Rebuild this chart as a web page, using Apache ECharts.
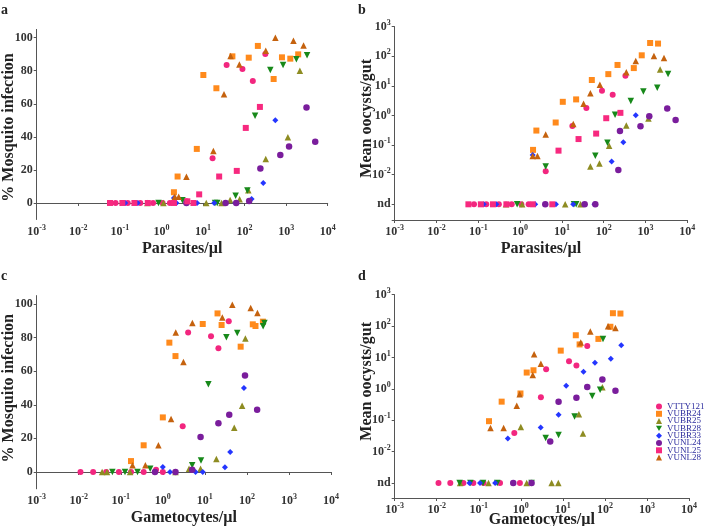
<!DOCTYPE html>
<html><head><meta charset="utf-8">
<script src="https://cdn.jsdelivr.net/npm/echarts@6/dist/echarts.min.js"></script>
<style>html,body{margin:0;padding:0;background:#fff}#c{width:708px;height:526px}</style>
</head><body><div id="c"></div>
<script>
const ND = 0.001; // "nd" (not detected) row
const seriesNames = ['VTTY121','VUBR24','VUBR25','VUBR28','VUBR33','VUNL24','VUNL25','VUNL28'];
const pctTicks = [0,20,40,60,80,100];

// Panel a: % infection vs parasites/µl
const a_VTTY121 = [[0.079,0],[0.155,0],[0.31,0],[0.63,0],[1.07,0],[1.6,0],[4.0,1],[17,27],[37,83.5],[89,81],[158,73.8],[316,90.1]];
const a_VUBR24 = [[2.0,6.5],[2.45,16],[7.1,32.7],[10.2,77.4],[21,69.4],[51,88.7],[126,87.9],[209,95],[501,75],[794,88.1],[1260,87.3],[1950,89.9]];
const a_VUBR25 = [[0.46,0],[1.12,0],[12,0],[28,0],[45,1.8],[76,2.2],[123,7.7],[324,26.6],[1100,39.7],[2140,80]];
const a_VUBR28 = [[0.85,0],[19.5,0],[22,0],[3.2,1.6],[61,4.4],[117,7.5],[179,52.8],[417,80.4],[843,83.5],[1766,86.9],[3190,89.3]];
const a_VUBR33 = [[0.135,0],[0.27,0],[2.3,0],[7.2,0],[18.6,0],[60,0],[2.0,3.0],[148,2.4],[282,12.1],[550,50]];
const a_VUNL24 = [[4.0,0],[35,0],[63,0],[129,1.2],[240,20.8],[724,29],[1175,34.1],[3090,57.7],[5010,37.1]];
const a_VUNL25 = [[0.058,0],[0.115,0],[0.224,0],[0.47,0],[2.0,0],[5.9,0],[4.2,1.0],[8.1,5.2],[24.5,16],[65,19.4],[107,45.4],[234,58.1]];
const a_VUNL28 = [[2.1,3.8],[2.6,3.8],[4.0,15.9],[17.8,31.5],[32,65.7],[46,88.9],[75,83.7],[324,92.1],[552,100],[1500,98.2],[2630,95.2]];

// Panel b: mean oocysts/gut vs parasites/µl
const b_VTTY121 = [[0.079,ND],[0.155,ND],[0.31,ND],[0.63,ND],[1.07,ND],[1.6,ND],[4.1,0.013],[17.8,0.44],[38.5,1.8],[91,6.9],[164,5.0],[331,22]];
const b_VUBR24 = [[2.04,0.069],[2.45,0.31],[7.1,0.58],[10.5,2.9],[21.9,3.5],[52,15.8],[129,25],[214,51],[525,40],[813,108],[1290,282],[1995,269]];
const b_VUBR25 = [[0.46,ND],[1.12,ND],[12,ND],[28,ND],[48,0.019],[79,0.024],[135,0.096],[347,0.46],[1175,0.79],[2240,36]];
const b_VUBR28 = [[0.85,ND],[19.5,ND],[22,ND],[4.1,0.019],[63,0.044],[123,0.12],[187,1.07],[446,3.1],[891,6.5],[1910,8.7],[3470,25]];
const b_VUBR33 = [[0.135,ND],[0.27,ND],[2.3,ND],[7.2,ND],[18.6,ND],[60,ND],[2.0,0.046],[155,0.028],[295,0.125],[585,1.02]];
const b_VUNL24 = [[4.0,ND],[35,ND],[63,ND],[224,0.0145],[245,0.30],[759,0.43],[1230,0.95],[3310,1.74],[5250,0.71]];
const b_VUNL25 = [[0.058,ND],[0.115,ND],[0.224,ND],[0.47,ND],[2.0,ND],[5.9,ND],[8.3,0.065],[25,0.16],[66,0.245],[115,0.81],[251,1.23]];
const b_VUNL28 = [[2.0,0.043],[2.6,0.043],[4.1,0.23],[18.7,0.52],[33,2.5],[48,5.7],[81,11],[347,29],[585,69],[1590,102],[2770,88]];

// Panel c: % infection vs gametocytes/µl
const c_VTTY121 = [[0.011,0],[0.022,0],[0.045,0],[0.09,0],[0.175,0],[0.35,0],[1.0,0],[0.69,1.4],[2.97,27.2],[4.0,83.1],[14,80.8],[21,73.6],[37,89.7]];
const c_VUBR24 = [[0.175,6.5],[0.35,15.9],[1.0,32.5],[1.43,77],[2.0,69],[8.9,88.1],[20,94.4],[25,87.5],[71,74.6],[138,87.9],[160,86.9],[240,89.5]];
const c_VUBR25 = [[0.036,0],[0.047,0],[0.166,0],[2.0,0],[4.2,2],[7.9,2],[18.8,7.7],[50,26.4],[77,39.5],[92,79.4]];
const c_VUBR28 = [[0.063,0],[0.126,0],[0.25,0],[0.5,2],[5.0,4],[8.1,6.9],[12.1,52.2],[32.5,80.2],[59,82.7],[243,86.7],[261,88.7]];
const c_VUBR33 = [[1.48,0],[6.0,0],[8.9,0],[1.0,3],[30,2.8],[40,11.9],[85,50]];
const c_VUNL24 = [[0.65,0],[2.0,0],[5.0,1.4],[7.9,20.8],[21,29],[38,34.1],[90,57.5],[175,37.1]];
const c_VUNL25 = [];
const c_VUNL28 = [[0.19,4],[0.385,4],[0.785,15.9],[1.57,31.5],[2.03,83.1],[3.09,65.5],[5.05,88.7],[26,92],[45,99.6],[123,97.6],[178,94.6]];

// Panel d: mean oocysts/gut vs gametocytes/µl
const d_VTTY121 = [[0.011,ND],[0.021,ND],[0.043,ND],[0.074,ND],[0.13,ND],[0.32,ND],[0.95,ND],[0.70,0.039],[3.0,0.54],[4.0,4.2],[14,7.6],[21,5.5],[38,23]];
const d_VUBR24 = [[0.175,0.093],[0.35,0.39],[0.98,0.71],[1.38,3.3],[2.0,3.9],[8.9,16.5],[20.3,51],[25,26],[70,39],[135,95],[155,257],[234,251]];
const d_VUBR25 = [[0.036,ND],[0.17,ND],[1.38,ND],[5.4,ND],[7.8,ND],[1.0,0.061],[24,0.155],[30,0.038],[87,1.12]];
const d_VUBR28 = [[0.035,ND],[0.063,ND],[0.126,ND],[0.275,ND],[1.8,ND],[3.9,0.027],[7.9,0.034],[19,0.13],[50,0.59],[77,0.93],[90,39]];
const d_VUBR33 = [[0.06,ND],[0.107,ND],[0.245,ND],[0.49,0.026],[2.97,0.058],[7.9,0.15],[12,1.26],[31,3.5],[58,6.8],[138,9.1],[245,24.5]];
const d_VUNL24 = [[0.66,ND],[1.8,ND],[5.0,0.021],[7.9,0.39],[21,0.52],[38,1.15],[87,2.0],[178,0.87]];
const d_VUNL25 = [];
const d_VUNL28 = [[0.19,0.056],[0.39,0.056],[0.8,0.29],[0.94,0.67],[1.92,2.75],[2.07,12.6],[3.0,6.3],[26.6,30],[45,67],[119,98],[178,87]];

const panelData = [
  [a_VTTY121,a_VUBR24,a_VUBR25,a_VUBR28,a_VUBR33,a_VUNL24,a_VUNL25,a_VUNL28],
  [b_VTTY121,b_VUBR24,b_VUBR25,b_VUBR28,b_VUBR33,b_VUNL24,b_VUNL25,b_VUNL28],
  [c_VTTY121,c_VUBR24,c_VUBR25,c_VUBR28,c_VUBR33,c_VUNL24,c_VUNL25,c_VUNL28],
  [d_VTTY121,d_VUBR24,d_VUBR25,d_VUBR28,d_VUBR33,d_VUNL24,d_VUNL25,d_VUNL28]
];

// ---- styles ----
const FONT = "'Liberation Serif','Times New Roman',serif";
const COL = ['#f2267f','#ff8a1c','#8e8c22','#17891a','#2436ff','#7a1d9c','#f7297f','#c5620e'];
const SYM = ['circle','rect','triangle','path://M0,0L10,0L5,9Z','diamond','circle','rect','triangle'];
const SIZE = [6,6,6.5,6.5,6,6.5,6,6.5];
const AXC = '#555';
const rich = {
  b:{fontFamily:FONT,fontWeight:'bold',fontSize:12,color:'#333'},
  s:{fontFamily:FONT,fontWeight:'bold',fontSize:8,color:'#333',padding:[0,0,8,0]}
};
function powLabel(v, nd){
  const l = Math.log10(v), r = Math.round(l);
  if (Math.abs(l-r) > 0.02) return '';
  if (nd && r === -3) return '{b|nd}';
  return '{b|10}{s|' + r + '}';
}
const grids = [
  {left:36.7, top:29.4, width:291, height:190.1, outerBoundsMode:'none', containLabel:false},
  {left:394.7, top:26.7, width:292.6, height:193.3, outerBoundsMode:'none', containLabel:false},
  {left:36.7, top:295.6, width:294.3, height:193.2, outerBoundsMode:'none', containLabel:false},
  {left:394.7, top:294.7, width:294.3, height:203.3, outerBoundsMode:'none', containLabel:false}
];
const xNames = ['Parasites/µl','Parasites/µl','Gametocytes/µl','Gametocytes/µl'];
const yNames = ['% Mosquito infection','Mean oocysts/gut','% Mosquito infection','Mean oocysts/gut'];
const xGaps = [21,21,21,14];
const yPad = [[0,6,0,0],[0,0,0,10],[0,0,0,8],[0,0,0,30]];
const nameStyle = {fontFamily:FONT,fontWeight:'bold',fontSize:16,color:'#222'};

const xAxis = grids.map((g,i)=>({
  type:'log', logBase:10, gridIndex:i, min:0.001, max:10000,
  name:xNames[i], nameLocation:'middle', nameGap:xGaps[i], nameMoveOverlap:false, nameTextStyle:nameStyle,
  axisLine:{lineStyle:{color:AXC,width:1}},
  axisTick:{show:true,length:3,lineStyle:{color:AXC}},
  splitLine:{show:false},
  axisLabel:{margin:4,formatter:v=>powLabel(v,false),rich:rich}
}));
const yAxis = grids.map((g,i)=>{
  const base = {gridIndex:i, name:yNames[i], nameLocation:'middle', nameGap:20, nameMoveOverlap:false,
    nameTextStyle:Object.assign({},nameStyle,{padding:yPad[i]}),
    axisLine:{show:true,lineStyle:{color:AXC,width:1}},
    axisTick:{show:true,length:3,lineStyle:{color:AXC}},
    splitLine:{show:false}};
  if (i===0 || i===2) {
    return Object.assign(base,{type:'value',min:-10,max:105,
      axisTick:{show:true,length:3,lineStyle:{color:AXC},customValues:pctTicks},
      axisLabel:{margin:4,customValues:pctTicks,fontFamily:FONT,fontWeight:'bold',fontSize:12,color:'#333'}});
  }
  return Object.assign(base,{type:'log',logBase:10,min:(i===1?Math.pow(10,-3.53):Math.pow(10,-3.48)),max:1000,
    axisLabel:{margin:4,formatter:v=>powLabel(v,true),rich:rich}});
});

const series = [];
panelData.forEach((arrs,p)=>{
  arrs.forEach((data,k)=>{
    series.push({type:'scatter',name:seriesNames[k],xAxisIndex:p,yAxisIndex:p,data:data,
      symbol:SYM[k],symbolSize:SIZE[k],itemStyle:{color:COL[k],opacity:1},
      emphasis:{disabled:true},animation:false});
  });
});

const letters = ['a','b','c','d'];
const letterPos = [[1,3],[358,3],[1,269],[358,269]];
const chart = echarts.init(document.getElementById('c'),null,{renderer:'canvas'});
chart.setOption({
  animation:false,
  backgroundColor:'#fff',
  grid:grids,
  xAxis:xAxis,
  yAxis:yAxis,
  legend:{data:seriesNames,orient:'vertical',left:656,top:402,itemWidth:6,itemHeight:6,itemGap:-1.7,
    padding:0,selectedMode:false,
    textStyle:{fontFamily:FONT,fontSize:9,color:'#2d2d9e'}},
  graphic:letters.map((t,i)=>({type:'text',left:letterPos[i][0],top:letterPos[i][1],
    style:{text:t,font:"bold 14px 'Liberation Serif', serif",fill:'#222'}})),
  series:series
});
</script></body></html>
